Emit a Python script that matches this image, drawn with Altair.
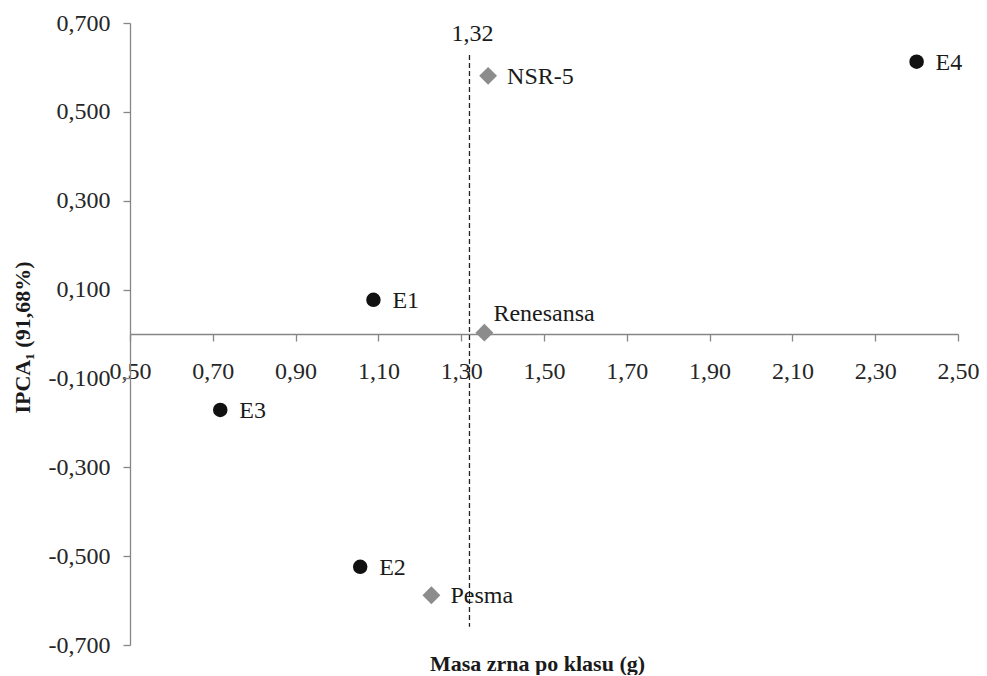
import altair as alt
import pandas as pd

# data
names = ["E1", "E2", "E3", "E4", "NSR-5", "Renesansa", "Pesma"]
groups = ["env", "env", "env", "env", "cult", "cult", "cult"]
masa = [1.088, 1.056, 0.718, 2.400, 1.365, 1.356, 1.228]
ipca1 = [0.077, -0.524, -0.171, 0.613, 0.581, 0.003, -0.588]

cut_x = [1.32]
cut_y_top = [0.628]
cut_y_bottom = [-0.659]
cut_label = ["1,32"]

x_ticks = [0.5, 0.7, 0.9, 1.1, 1.3, 1.5, 1.7, 1.9, 2.1, 2.3, 2.5]
y_ticks = [-0.7, -0.5, -0.3, -0.1, 0.1, 0.3, 0.5, 0.7]

pts = pd.DataFrame({"name": names, "group": groups, "x": masa, "y": ipca1})
cut = pd.DataFrame({"x": cut_x, "y": cut_y_top, "y2": cut_y_bottom, "label": cut_label})

FONT = "Liberation Serif"
W, H = 828, 622

X = alt.X(
    "x:Q",
    scale=alt.Scale(domain=[0.5, 2.5], nice=False, zero=False),
    axis=alt.Axis(
        values=x_ticks,
        labelExpr="replace(format(datum.value, '.2f'), '.', ',')",
        offset=-(H / 2),
        tickSize=7,
        labelPadding=18,
        labelFlush=False,
        labelOverlap=False,
        title="Masa zrna po klasu (g)",
        titleX=407,
        titleY=329,
        titleAlign="center",
        titleBaseline="middle",
        titleFontSize=22,
        titleFontWeight="bold",
    ),
)
Y = alt.Y(
    "y:Q",
    scale=alt.Scale(domain=[-0.7, 0.7], nice=False, zero=False),
    axis=alt.Axis(
        values=y_ticks,
        labelExpr="replace(replace(format(datum.value, '.3f'), '.', ','), '\u2212', '-')",
        tickSize=7,
        labelPadding=13,
        labelOverlap=False,
        title="IPCA\u2081 (91,68%)",
        titleX=-108,
        titleY=314,
        titleAngle=270,
        titleAlign="center",
        titleBaseline="middle",
        titleFontSize=22,
        titleFontWeight="bold",
    ),
)

base = alt.Chart(pts)

env_pts = base.transform_filter(alt.datum.group == "env").mark_point(
    shape="circle", filled=True, size=210, color="#111111", opacity=1
).encode(x=X, y=Y)

cult_pts = base.transform_filter(alt.datum.group == "cult").mark_point(
    shape="diamond", filled=True, size=320, color="#8c8c8c", opacity=1
).encode(x=X, y=Y)

labels = base.transform_filter(alt.datum.name != "Renesansa").mark_text(
    align="left", baseline="middle", dx=19, dy=1, font=FONT, fontSize=24, color="#1a1a1a"
).encode(x=X, y=Y, text="name:N")

label_ren = base.transform_filter(alt.datum.name == "Renesansa").mark_text(
    align="left", baseline="middle", dx=9, dy=-19, font=FONT, fontSize=24, color="#1a1a1a"
).encode(x=X, y=Y, text="name:N")

rule = alt.Chart(cut).mark_rule(
    color="#222222", strokeWidth=1.3, strokeDash=[5, 3]
).encode(x=X, y=Y, y2="y2:Q")

rule_label = alt.Chart(cut).mark_text(
    align="center", baseline="middle", dx=3, dy=-21, font=FONT, fontSize=24, color="#1a1a1a"
).encode(x=X, y=Y, text="label:N")

chart = (
    alt.layer(rule, env_pts, cult_pts, labels, label_ren, rule_label)
    .properties(
        width=W,
        height=H,
        autosize=alt.AutoSizeParams(type="none"),
        padding={"left": 122, "top": 15, "right": 21, "bottom": 30},
        background="white",
    )
    .configure_view(stroke=None)
    .configure_axis(
        grid=False,
        domainColor="#868686",
        domainWidth=1.3,
        tickColor="#868686",
        tickWidth=1.3,
        labelFont=FONT,
        labelFontSize=24,
        labelColor="#262626",
        titleFont=FONT,
        titleColor="#1a1a1a",
    )
)

chart.save("out.html", embed_options={"renderer": "svg", "actions": False})
